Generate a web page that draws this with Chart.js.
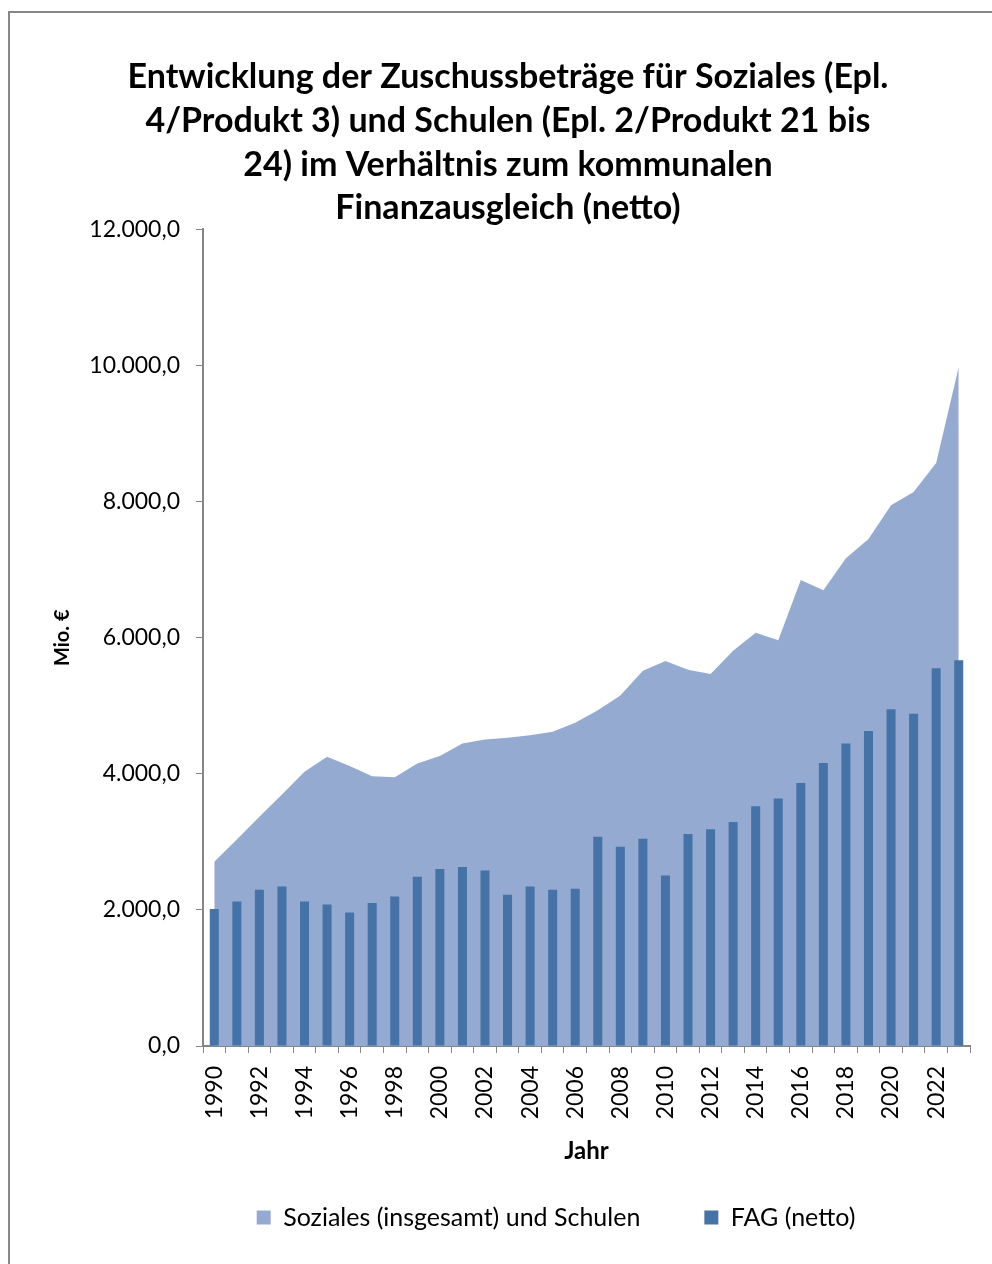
<!DOCTYPE html>
<html lang="de">
<head>
<meta charset="utf-8">
<title>Zuschussbeträge Soziales und Schulen vs. FAG</title>
<script src="https://cdn.jsdelivr.net/npm/chart.js@4.4.1/dist/chart.umd.min.js"></script>
<style>
  html, body { margin: 0; padding: 0; background: #fff; overflow: hidden; }
  #wrap { position: relative; width: 992px; height: 1264px; }
  #frame {
    position: absolute; left: 8px; top: 11px; width: 1100px; height: 1400px;
    border-left: 2px solid #878787; border-top: 2px solid #878787;
    pointer-events: none;
  }
  canvas { position: absolute; left: 0; top: 0; }
</style>
</head>
<body>
<div id="wrap">
  <canvas id="myChart" width="992" height="1264"></canvas>
  <div id="frame"></div>
</div>
<script>
// Years on the category axis
const years = [
  1990, 1991, 1992, 1993, 1994, 1995, 1996, 1997, 1998, 1999,
  2000, 2001, 2002, 2003, 2004, 2005, 2006, 2007, 2008, 2009,
  2010, 2011, 2012, 2013, 2014, 2015, 2016, 2017, 2018, 2019,
  2020, 2021, 2022, 2023
];

// Soziales (insgesamt) und Schulen, Mio. € (area)
const sozialesSchulen = [
  2707, 3036, 3368, 3697, 4029, 4250, 4113, 3966, 3951, 4152,
  4260, 4446, 4504, 4530, 4568, 4617, 4749, 4933, 5151, 5516,
  5658, 5531, 5465, 5809, 6073, 5962, 6848, 6696, 7167, 7450,
  7946, 8140, 8568, 9980
];

// FAG (netto), Mio. € (bars)
const fagNetto = [
  2012, 2125, 2296, 2345, 2125, 2081, 1963, 2100, 2198, 2487,
  2600, 2629, 2580, 2223, 2345, 2296, 2311, 3074, 2928, 3044,
  2507, 3115, 3186, 3292, 3525, 3637, 3865, 4158, 4447, 4629,
  4949, 4883, 5551, 5668
];

const titleLines = [
  "Entwicklung der Zuschussbeträge für Soziales (Epl.",
  "4/Produkt 3) und Schulen (Epl. 2/Produkt 21 bis",
  "24) im Verhältnis zum kommunalen",
  "Finanzausgleich (netto)"
];

const yMin = 0;
const yMax = 12000;
const yStep = 2000;

const FONT = "Lato, 'Open Sans', sans-serif";
const axisGray = "#868686";

// 12000 -> "12.000,0"
function formatDe(value) {
  const parts = Number(value).toFixed(1).split(".");
  const intPart = parts[0].replace(/\B(?=(\d{3})+(?!\d))/g, ".");
  return intPart + "," + parts[1];
}

// legend: wide gap between the entries, fixed box height, shifted right like the original
const legendTweak = {
  id: "legendTweak",
  beforeUpdate(chart) {
    const lg = chart.legend;
    if (lg && !lg._fixedHeight) {
      const fit = lg.fit.bind(lg);
      lg.fit = function () {
        fit();
        this.height = 123;
      };
      lg._fixedHeight = true;
    }
  },
  afterLayout(chart) {
    const lg = chart.legend;
    if (lg) {
      lg.left += 48;
      lg.right += 48;
    }
  },
};

const ctx = document.getElementById("myChart").getContext("2d");

new Chart(ctx, {
  data: {
    labels: years.map(String),
    datasets: [
      {
        type: "line",
        label: "Soziales (insgesamt) und Schulen",
        data: sozialesSchulen,
        backgroundColor: "#95AAD0",
        borderColor: "#95AAD0",
        borderWidth: 0,
        pointRadius: 0,
        tension: 0,
        fill: "origin",
        order: 1,
      },
      {
        type: "bar",
        label: "FAG (netto)",
        data: fagNetto,
        backgroundColor: "#4573A7",
        borderWidth: 0,
        barPercentage: 0.4,
        categoryPercentage: 1.0,
        order: 0,
      },
    ],
  },
  plugins: [legendTweak],
  options: {
    responsive: false,
    animation: false,
    layout: {
      padding: { left: 46, right: 22, top: 0, bottom: 0 },
    },
    plugins: {
      tooltip: { enabled: false },
      title: {
        display: true,
        text: titleLines,
        color: "#000",
        font: { family: FONT, size: 34, weight: "bold", lineHeight: 1.29 },
        padding: { top: 55, bottom: -1 },
      },
      legend: {
        position: "bottom",
        labels: {
          color: "#000",
          font: { family: FONT, size: 25 },
          boxWidth: 14,
          boxHeight: 14,
          padding: 64,
          sort: (a, b) => a.datasetIndex - b.datasetIndex,
        },
      },
    },
    scales: {
      x: {
        type: "category",
        offset: true,
        afterFit: (scale) => {
          scale.height = 95;
          scale.paddingLeft = 0;
          scale.paddingRight = 0;
        },
        grid: {
          display: true,
          drawOnChartArea: false,
          offset: true,
          tickLength: 7,
          color: axisGray,
        },
        border: { display: true, color: axisGray, width: 2 },
        ticks: {
          autoSkip: false,
          maxRotation: 90,
          minRotation: 90,
          padding: 13,
          color: "#000",
          font: { family: FONT, size: 23 },
          callback: function (value, index) {
            return index % 2 === 0 ? this.getLabelForValue(value) : "";
          },
        },
        title: {
          display: true,
          text: "Jahr",
          color: "#000",
          font: { family: FONT, size: 24, weight: "bold", lineHeight: 1.2 },
          padding: { top: 0, bottom: -25 },
        },
      },
      y: {
        min: yMin,
        max: yMax,
        afterFit: (scale) => { scale.width = 157; },
        grid: {
          display: true,
          drawOnChartArea: false,
          tickLength: 7,
          color: axisGray,
        },
        border: { display: true, color: axisGray, width: 2 },
        ticks: {
          stepSize: yStep,
          padding: 16,
          color: "#000",
          font: { family: FONT, size: 23 },
          callback: (value) => formatDe(value),
        },
        title: {
          display: true,
          text: "Mio. €",
          color: "#000",
          font: { family: FONT, size: 20, weight: "bold", lineHeight: 1.2 },
          padding: { top: 5, bottom: 0 },
        },
      },
    },
  },
});
</script>
</body>
</html>
